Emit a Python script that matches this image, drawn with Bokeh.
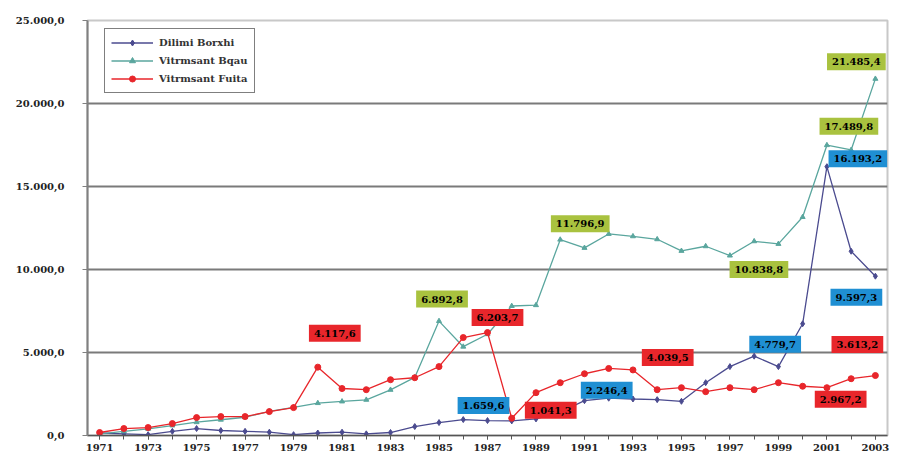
from bokeh.plotting import figure
from bokeh.models import (FixedTicker, CustomJSTickFormatter, Range1d, Label,
                          Legend, LegendItem)
from bokeh.embed import file_html
from bokeh.resources import INLINE

years = list(range(1971, 2004))

dilimi_borxhi = [150, 100, 50, 250, 420, 300, 250, 200, 50, 150,
                 200, 100, 180, 540, 780, 960, 900, 880, 1000, 1400,
                 2100, 2246.4, 2200, 2160, 2060, 3180, 4150, 4779.7, 4150, 6730,
                 16193.2, 11100, 9597.3]
vitrmsant_bqau = [100, 250, 400, 600, 800, 950, 1100, 1450, 1700, 1950,
                  2050, 2150, 2750, 3500, 6892.8, 5350, 6100, 7800, 7850, 11796.9,
                  11300, 12140, 12000, 11820, 11120, 11400, 10838.8, 11700, 11540, 13160,
                  17489.8, 17200, 21485.4]
vitrmsant_fuita = [180, 420, 480, 720, 1080, 1140, 1140, 1440, 1680, 4117.6,
                   2830, 2760, 3360, 3480, 4150, 5900, 6203.7, 1041.3, 2580, 3180,
                   3720, 4039.5, 3950, 2760, 2880, 2640, 2880, 2760, 3180, 2967.2,
                   2880, 3420, 3613.2]

series_names = ["Dilimi Borxhi", "Vitrmsant Bqau", "Vitrmsant Fuita"]
y_ticks = [0, 5000, 10000, 15000, 20000, 25000]
x_label_years = list(range(1971, 2004, 2))

# data labels: (year, series index, text)
label_years = [1980, 1985, 1987, 1987, 1988, 1990, 1992, 1992, 1997, 1998, 2000, 2001, 2001, 2003, 2003, 2003]
label_series = [2, 1, 2, 0, 2, 1, 0, 2, 1, 0, 2, 1, 0, 0, 2, 1]
label_texts = ["4.117,6", "6.892,8", "6.203,7", "1.659,6", "1.041,3", "11.796,9", "2.246,4",
               "4.039,5", "10.838,8", "4.779,7", "2.967,2", "17.489,8", "16.193,2",
               "9.597,3", "3.613,2", "21.485,4"]
# pixel offsets of each label box (right, down)
label_dx = [17, 3, 10, -4, 39, 20, -2, 59, 29, 21, 38, 22, 31, -19, -18, -19]
label_dy = [-34, -22, -15, -15, -8, -16, -8, -11, 14, -12, 13, -19, -8, 21, -31, -17]

series_values = [dilimi_borxhi, vitrmsant_bqau, vitrmsant_fuita]
line_colors = ["#4b4b8f", "#5aa69e", "#e8262b"]
box_colors = ["#1f8fd3", "#a9c23f", "#e8262b"]
FONT = "DejaVu Serif"

p = figure(width=892, height=454, x_range=Range1d(1970.5, 2003.5),
           y_range=Range1d(0, 25000), output_backend="svg", toolbar_location=None,
           min_border_left=87, min_border_right=5, min_border_top=20,
           min_border_bottom=19)
p.background_fill_color = "white"
p.outline_line_color = "#c8c8c8"
p.outline_line_width = 2

p.xgrid.visible = False
p.ygrid.ticker = FixedTicker(ticks=y_ticks[1:-1])
p.ygrid.grid_line_color = "#7a7a7a"
p.ygrid.grid_line_width = 2

p.yaxis.ticker = FixedTicker(ticks=y_ticks)
p.yaxis.formatter = CustomJSTickFormatter(code="""
const s = tick.toFixed(1).split('.');
const i = s[0].replace(/\\B(?=(\\d{3})+(?!\\d))/g, '.');
return i + ',' + s[1];
""")
p.yaxis.axis_line_color = "#808080"
p.yaxis.axis_line_width = 2
p.yaxis.major_tick_out = 5
p.yaxis.major_tick_in = 0
p.yaxis.minor_tick_line_color = None
p.yaxis.major_tick_line_color = "#808080"
p.yaxis.major_label_standoff = 18
p.yaxis.major_label_text_font = FONT
p.yaxis.major_label_text_font_style = "bold"
p.yaxis.major_label_text_font_size = "10px"
p.yaxis.major_label_text_color = "#222222"

p.xaxis.ticker = FixedTicker(ticks=x_label_years, minor_ticks=years)
p.xaxis.axis_line_color = "#555555"
p.xaxis.axis_line_width = 1.5
p.xaxis.major_tick_out = 4
p.xaxis.major_tick_in = 0
p.xaxis.minor_tick_out = 4
p.xaxis.minor_tick_in = 0
p.xaxis.major_tick_line_color = "#555555"
p.xaxis.minor_tick_line_color = "#555555"
p.xaxis.major_label_standoff = 4
p.xaxis.major_label_text_font = FONT
p.xaxis.major_label_text_font_style = "bold"
p.xaxis.major_label_text_font_size = "10px"
p.xaxis.major_label_text_color = "#222222"

items = []
markers = ["diamond", "triangle", "circle"]
sizes = [6, 5, 6]
for name, vals, col, mk, sz in zip(series_names, series_values, line_colors, markers, sizes):
    r1 = p.line(years, vals, line_color=col, line_width=1.3)
    r2 = p.scatter(years, vals, marker=mk, size=sz, fill_color=col, line_color=col)
    items.append(LegendItem(label=name, renderers=[r1, r2]))

for yr, si, txt, dx, dy in zip(label_years, label_series, label_texts, label_dx, label_dy):
    val = series_values[si][years.index(yr)]
    lab = Label(x=yr, y=val, x_offset=dx, y_offset=-dy, text=txt,
                text_align="center", text_baseline="middle",
                text_font=FONT, text_font_style="bold", text_font_size="10px",
                text_color="black", background_fill_color=box_colors[si],
                padding=5)
    p.add_layout(lab)

legend = Legend(items=items, location=(17, 342))
legend.border_line_color = "black"
legend.border_line_width = 1
legend.label_text_font = FONT
legend.label_text_font_style = "bold"
legend.label_text_font_size = "10px"
legend.label_text_color = "#333333"
legend.glyph_width = 42
legend.glyph_height = 15
legend.label_height = 15
legend.spacing = 3
legend.padding = 6
legend.margin = 0
legend.label_standoff = 6
p.add_layout(legend)

open("out.html", "w").write(file_html(p, INLINE))
